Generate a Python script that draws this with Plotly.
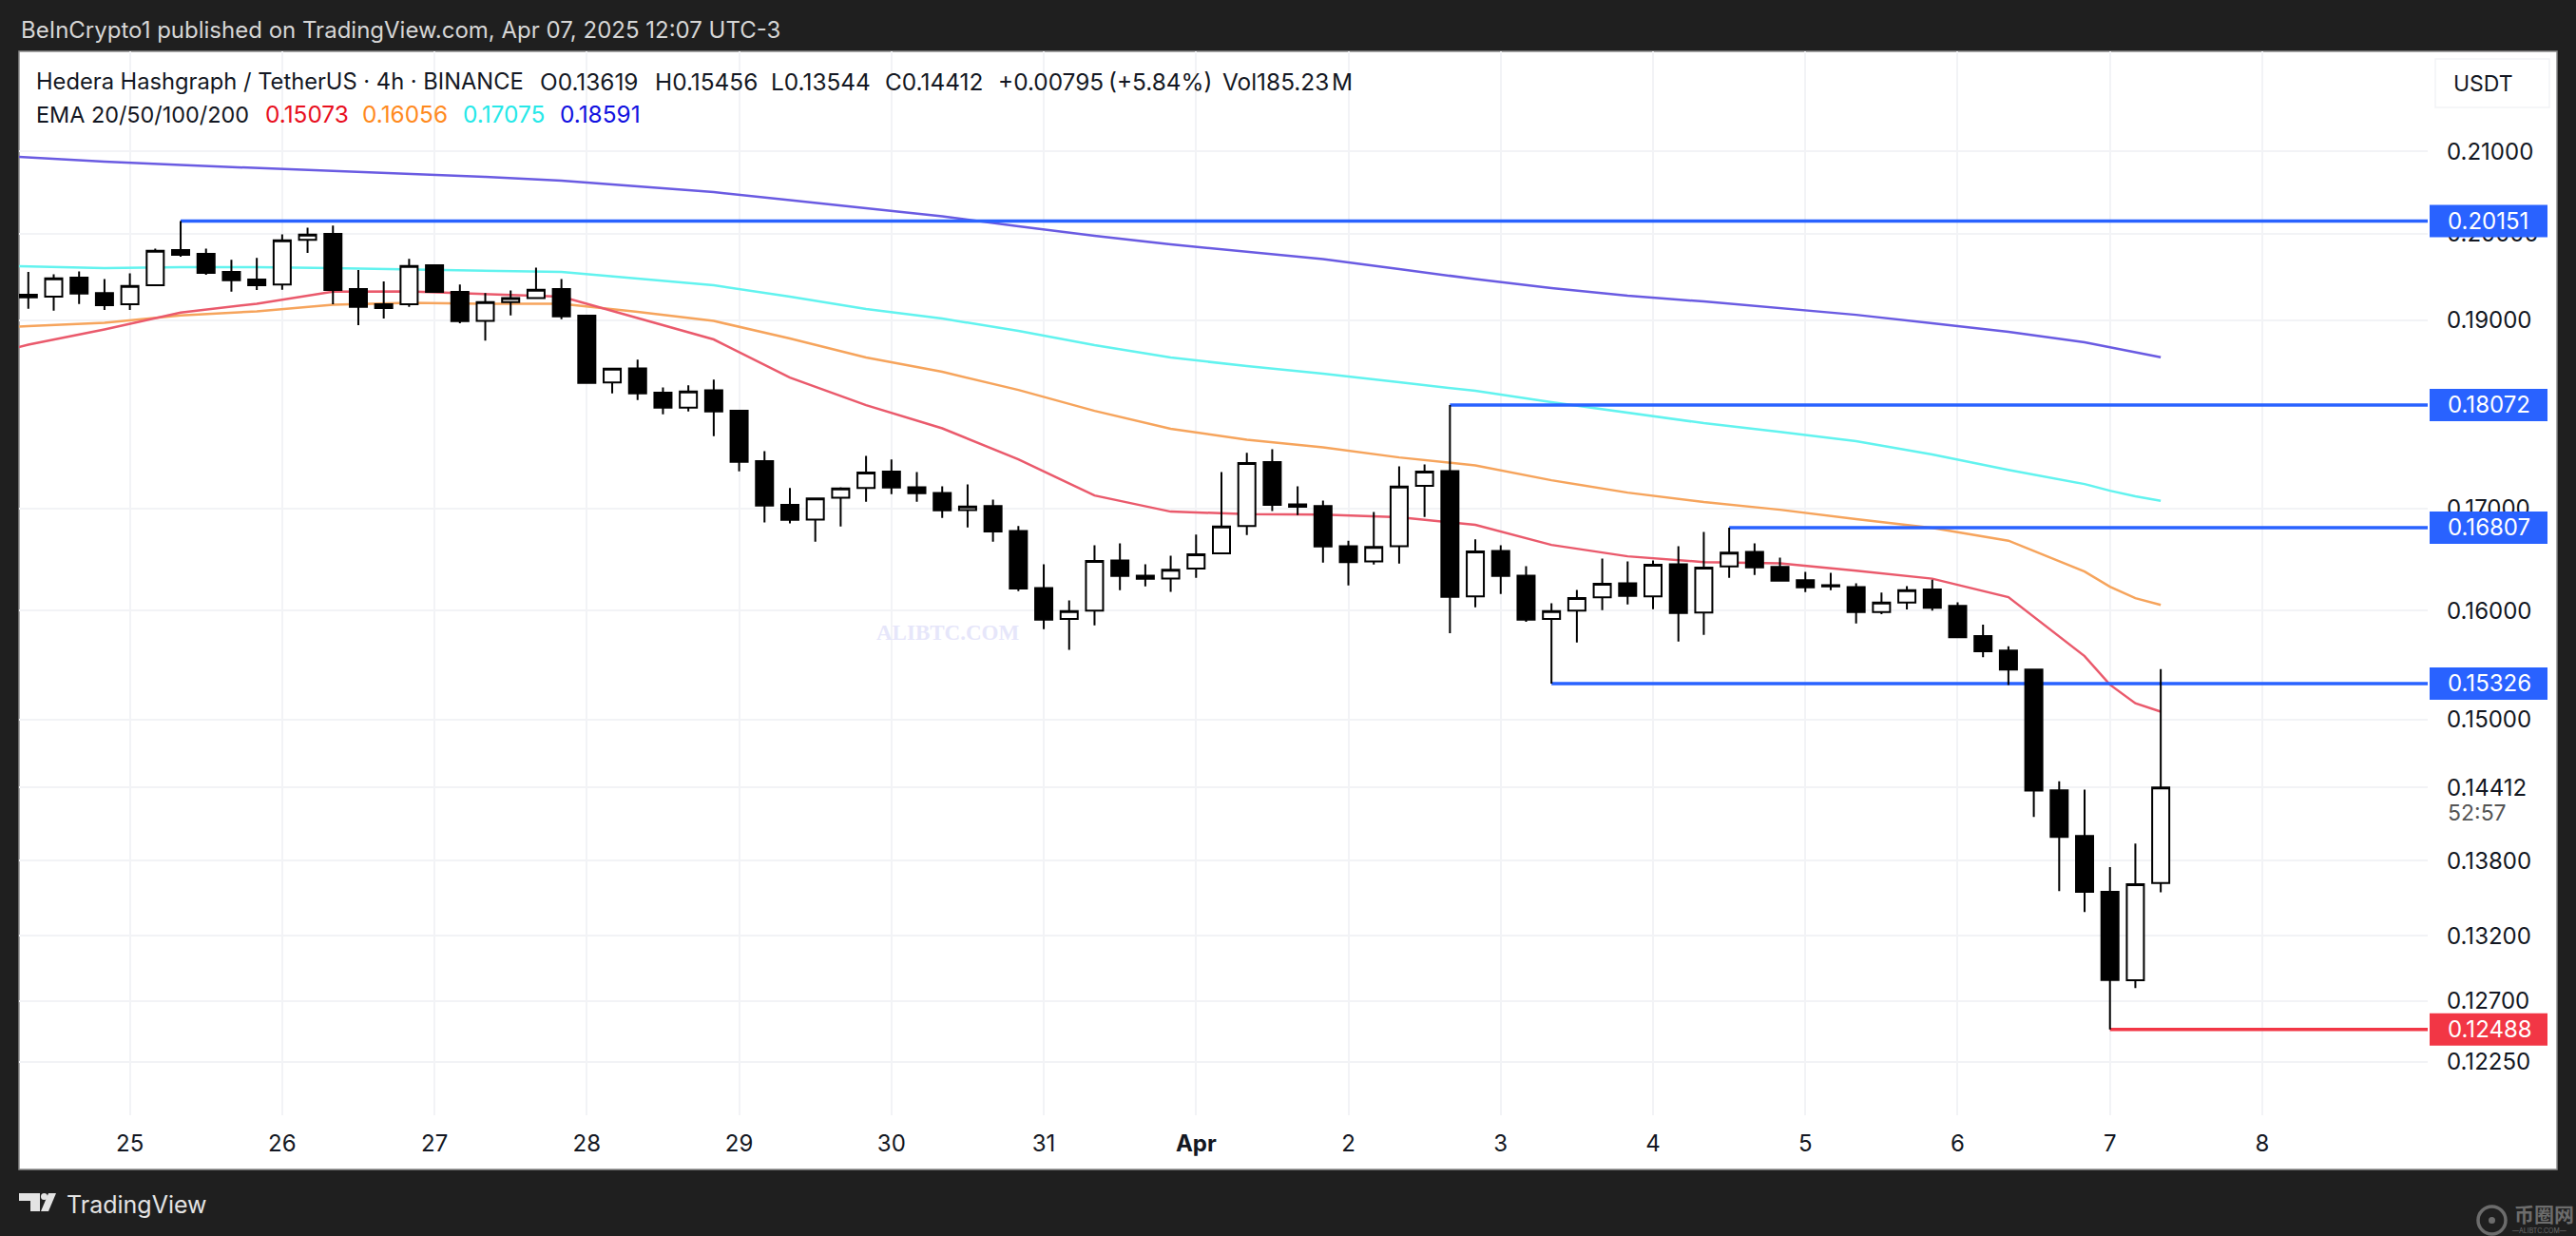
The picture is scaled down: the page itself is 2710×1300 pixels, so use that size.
import math
import pandas as pd
import plotly.graph_objects as go

# 4h candles, first one is Mar 24 08:00
opens = [0.19290, 0.19268, 0.19487, 0.19309, 0.19182, 0.19399, 0.19807, 0.19763, 0.19552, 0.19465,
         0.19407, 0.19927, 0.19998, 0.19355, 0.19182, 0.19182, 0.19630, 0.19323, 0.18996, 0.19207,
         0.19254, 0.19355, 0.19053, 0.18314, 0.18469, 0.18204, 0.18044, 0.18231, 0.18010, 0.17481,
         0.17034, 0.16888, 0.17108, 0.17207, 0.17373, 0.17214, 0.17156, 0.16983, 0.17022, 0.16774,
         0.16217, 0.15922, 0.16002, 0.16484, 0.16336, 0.16309, 0.16404, 0.16552, 0.16824, 0.17471,
         0.17041, 0.17022, 0.16624, 0.16475, 0.16624, 0.17227, 0.17380, 0.16138, 0.16577, 0.16336,
         0.15922, 0.16002, 0.16129, 0.16263, 0.16138, 0.16447, 0.15984, 0.16425, 0.16568, 0.16422,
         0.16291, 0.16245, 0.16226, 0.15988, 0.16077, 0.16203, 0.16047, 0.15762, 0.15627, 0.15453,
         0.14387, 0.14004, 0.13548, 0.12857, 0.13619]
highs = [0.19552, 0.19527, 0.19560, 0.19472, 0.19538, 0.19826, 0.20151, 0.19826, 0.19693, 0.19715,
         0.19994, 0.20073, 0.20096, 0.19574, 0.19443, 0.19704, 0.19633, 0.19407, 0.19309, 0.19341,
         0.19604, 0.19472, 0.19060, 0.18465, 0.18563, 0.18262, 0.18283, 0.18345, 0.18020, 0.17586,
         0.17205, 0.17101, 0.17214, 0.17537, 0.17498, 0.17370, 0.17224, 0.17243, 0.17089, 0.16822,
         0.16447, 0.16099, 0.16633, 0.16652, 0.16447, 0.16531, 0.16737, 0.17370, 0.17567, 0.17606,
         0.17224, 0.17079, 0.16676, 0.16964, 0.17429, 0.17448, 0.18072, 0.16692, 0.16633, 0.16429,
         0.16072, 0.16199, 0.16503, 0.16475, 0.16484, 0.16624, 0.16765, 0.16807, 0.16652, 0.16512,
         0.16373, 0.16364, 0.16263, 0.16174, 0.16235, 0.16297, 0.16081, 0.15868, 0.15667, 0.15460,
         0.14464, 0.14393, 0.13747, 0.13941, 0.15456]
lows = [0.19131, 0.19110, 0.19185, 0.19117, 0.19117, 0.19399, 0.19729, 0.19519, 0.19326, 0.19345,
        0.19348, 0.19774, 0.19182, 0.18946, 0.19021, 0.19153, 0.19312, 0.18967, 0.18773, 0.19056,
        0.19254, 0.19013, 0.18299, 0.18197, 0.18125, 0.17973, 0.18003, 0.17741, 0.17376, 0.16859,
        0.16850, 0.16667, 0.16818, 0.17066, 0.17143, 0.17066, 0.16903, 0.16808, 0.16667, 0.16186,
        0.15826, 0.15635, 0.15862, 0.16195, 0.16232, 0.16181, 0.16314, 0.16552, 0.16733, 0.16974,
        0.16932, 0.16462, 0.16241, 0.16443, 0.16453, 0.16913, 0.15790, 0.16032, 0.16159, 0.15897,
        0.15326, 0.15702, 0.16005, 0.16059, 0.16014, 0.15711, 0.15773, 0.16314, 0.16342, 0.16287,
        0.16177, 0.16195, 0.15880, 0.15967, 0.16012, 0.16002, 0.15752, 0.15566, 0.15313, 0.14162,
        0.13554, 0.13388, 0.12488, 0.12798, 0.13544]
closes = [0.19261, 0.19479, 0.19304, 0.19171, 0.19391, 0.19799, 0.19752, 0.19541, 0.19457, 0.19399,
          0.19922, 0.19990, 0.19345, 0.19153, 0.19139, 0.19622, 0.19323, 0.18992, 0.19207, 0.19254,
          0.19348, 0.19045, 0.18310, 0.18465, 0.18197, 0.18044, 0.18217, 0.18003, 0.17474, 0.17027,
          0.16884, 0.17101, 0.17201, 0.17363, 0.17210, 0.17152, 0.16979, 0.17018, 0.16768, 0.16211,
          0.15915, 0.15996, 0.16478, 0.16333, 0.16305, 0.16394, 0.16543, 0.16818, 0.17461, 0.17034,
          0.17015, 0.16620, 0.16468, 0.16617, 0.17220, 0.17373, 0.16132, 0.16571, 0.16333, 0.15915,
          0.15996, 0.16120, 0.16257, 0.16141, 0.16441, 0.15978, 0.16413, 0.16559, 0.16416, 0.16287,
          0.16223, 0.16232, 0.15987, 0.16077, 0.16196, 0.16029, 0.15752, 0.15621, 0.15453, 0.14384,
          0.13996, 0.13548, 0.12860, 0.13609, 0.14412]

# EMAs read every third candle (plus the last few), index into the candle list
ema_index = [-1, 0, 3, 6, 9, 12, 15, 18, 21, 24, 27, 30, 33, 36, 39, 42,
             45, 48, 51, 54, 57, 60, 63, 66, 69, 72, 75, 78, 81, 82, 83, 84]
ema20 = [0.18660, 0.18729, 0.18898, 0.19088, 0.19189, 0.19326, 0.19328, 0.19296, 0.19268, 0.19026, 0.18787,
         0.18368, 0.18071, 0.17824, 0.17500, 0.17130, 0.16967, 0.16943, 0.16938, 0.16910, 0.16834, 0.16636,
         0.16524, 0.16468, 0.16455, 0.16385, 0.16307, 0.16129, 0.15576, 0.15315, 0.15148, 0.15073]
ema50 = [0.18925, 0.18935, 0.18973, 0.19056, 0.19103, 0.19176, 0.19198, 0.19187, 0.19187, 0.19096, 0.18994,
         0.18797, 0.18587, 0.18431, 0.18234, 0.18010, 0.17819, 0.17704, 0.17624, 0.17520, 0.17437, 0.17285,
         0.17159, 0.17063, 0.16986, 0.16891, 0.16805, 0.16678, 0.16376, 0.16229, 0.16120, 0.16056]
ema100 = [0.19624, 0.19619, 0.19597, 0.19608, 0.19608, 0.19597, 0.19580, 0.19563, 0.19552, 0.19476, 0.19399,
          0.19268, 0.19128, 0.19021, 0.18882, 0.18723, 0.18587, 0.18493, 0.18410, 0.18317, 0.18224, 0.18102,
          0.17990, 0.17879, 0.17788, 0.17689, 0.17550, 0.17392, 0.17246, 0.17178, 0.17121, 0.17075]
ema200 = [0.20942, 0.20924, 0.20872, 0.20830, 0.20795, 0.20754, 0.20719, 0.20684, 0.20638, 0.20568, 0.20499,
          0.20401, 0.20304, 0.20207, 0.20088, 0.19975, 0.19874, 0.19791, 0.19702, 0.19586, 0.19470, 0.19366,
          0.19279, 0.19214, 0.19139, 0.19063, 0.18967, 0.18871, 0.18755, 0.18702, 0.18650, 0.18591]

# horizontal levels drawn on the chart and the candle each one starts from
level_values = [0.20151, 0.18072, 0.16807, 0.15326, 0.12488]
level_labels = ["0.20151", "0.18072", "0.16807", "0.15326", "0.12488"]
level_start = [6, 56, 67, 60, 82]
level_colors = ["#2962ff", "#2962ff", "#2962ff", "#2962ff", "#f23645"]

price_ticks = [0.21, 0.20, 0.19, 0.17, 0.16, 0.15, 0.14412, 0.138, 0.132, 0.127, 0.1225]
price_labels = ["0.21000", "0.20000", "0.19000", "0.17000", "0.16000", "0.15000",
                "0.14412", "0.13800", "0.13200", "0.12700", "0.12250"]

day_ticks = ["2025-03-25", "2025-03-26", "2025-03-27", "2025-03-28", "2025-03-29", "2025-03-30", "2025-03-31",
             "2025-04-01", "2025-04-02", "2025-04-03", "2025-04-04", "2025-04-05", "2025-04-06", "2025-04-07",
             "2025-04-08"]
day_labels = ["25", "26", "27", "28", "29", "30", "31", "<b>Apr</b>", "2", "3", "4", "5", "6", "7", "8"]

# legend text pieces
title_text = "Hedera Hashgraph / TetherUS · 4h · BINANCE"
ohlc_text = ["O0.13619", "H0.15456", "L0.13544", "C0.14412", "+0.00795", "(+5.84%)", "Vol185.23", "M"]
ohlc_x = [566, 687, 809, 929, 1048, 1164, 1284, 1399]
ema_title = "EMA 20/50/100/200"
ema_text = ["0.15073", "0.16056", "0.17075", "0.18591"]
ema_text_x = [277, 379, 485, 587]
ema_text_colors = ["#e8101e", "#ff8a1e", "#27e8e8", "#1010e0"]

W, H = 2710, 1300
FONT = "Inter"


def fx(px):
    return px / W


def fy(py):
    return 1 - py / H


times = pd.date_range("2025-03-24 08:00", periods=len(opens), freq="4h")
ema_times = [times[0] + pd.Timedelta(hours=4 * i) for i in ema_index]
x_range = ["2025-03-24 06:32", "2025-04-09 02:04"]
y_range = [math.log10(0.11870), math.log10(0.2228)]
y_domain = [fy(1173), fy(54)]


def price_y(val, offset=0):
    # paper height of a price on the log axis, offset in screen pixels
    t = (math.log10(val) - y_range[0]) / (y_range[1] - y_range[0])
    return y_domain[0] + t * (y_domain[1] - y_domain[0]) + offset / H


fig = go.Figure()

for vals, col in [(ema200, "#6a5be2"), (ema100, "#62f3ef"), (ema50, "#f6a45c"), (ema20, "#ea5a6c")]:
    fig.add_trace(go.Scatter(x=ema_times, y=vals, mode="lines", line=dict(color=col, width=2.5), hoverinfo="skip"))

for val, start, col in zip(level_values, level_start, level_colors):
    fig.add_trace(go.Scatter(x=[times[start], x_range[1]], y=[val, val], mode="lines",
                             line=dict(color=col, width=3.5), hoverinfo="skip"))

# second y axis only so the candles sit on top of the lines
fig.add_trace(go.Candlestick(
    x=times, open=opens, high=highs, low=lows, close=closes, yaxis="y2",
    increasing=dict(line=dict(color="#000000", width=2), fillcolor="#ffffff"),
    decreasing=dict(line=dict(color="#000000", width=2), fillcolor="#000000"),
    hoverinfo="skip",
))

shapes = [
    # white panel
    dict(type="rect", xref="paper", yref="paper", x0=fx(20), x1=fx(2690), y0=fy(54), y1=fy(1230), layer="below",
         fillcolor="#ffffff", line=dict(color="#8c8c8c", width=1.5)),
    # USDT button
    dict(type="rect", xref="paper", yref="paper", x0=fx(2562), x1=fx(2682), y0=fy(62), y1=fy(113),
         fillcolor="#ffffff", line=dict(color="#f2f3f6", width=1.5)),
    # TradingView logo
    dict(type="path", xref="paper", yref="paper", fillcolor="#e3e3e3", line=dict(width=0),
         path=f"M{fx(20)},{fy(1255)} L{fx(42)},{fy(1255)} L{fx(42)},{fy(1274)} L{fx(32)},{fy(1274)} "
              f"L{fx(32)},{fy(1263)} L{fx(20)},{fy(1263)} Z"),
    dict(type="circle", xref="paper", yref="paper", x0=fx(43), x1=fx(50), y0=fy(1255), y1=fy(1262),
         fillcolor="#e3e3e3", line=dict(width=0)),
    dict(type="path", xref="paper", yref="paper", fillcolor="#e3e3e3", line=dict(width=0),
         path=f"M{fx(51)},{fy(1255)} L{fx(59)},{fy(1255)} L{fx(51)},{fy(1274)} L{fx(43)},{fy(1274)} Z"),
    # 币圈网 mark
    dict(type="circle", xref="paper", yref="paper", x0=fx(2607), x1=fx(2636), y0=fy(1269), y1=fy(1298),
         fillcolor="rgba(0,0,0,0)", line=dict(color="#6c6c6c", width=3.5)),
    dict(type="circle", xref="paper", yref="paper", x0=fx(2618), x1=fx(2625), y0=fy(1280), y1=fy(1287),
         fillcolor="#6c6c6c", line=dict(width=0)),
]
for val, col in zip(level_values, level_colors):
    shapes.append(dict(type="rect", xref="paper", yref="paper", x0=fx(2556), x1=fx(2680),
                       y0=price_y(val, -17), y1=price_y(val, 17), fillcolor=col, line=dict(width=0)))

annotations = [
    dict(x=fx(20), y=fy(32), text="BeInCrypto1 published on TradingView.com, Apr 07, 2025 12:07 UTC-3",
         font=dict(size=24, color="#d6d6d6", family=FONT)),
    dict(x=fx(36), y=fy(86), text=title_text, font=dict(size=23.7, color="#131722", family=FONT)),
    dict(x=fx(36), y=fy(120), text=ema_title, font=dict(size=23.4, color="#131722", family=FONT)),
    dict(x=fx(2612), y=fy(88), xanchor="center", text="USDT", font=dict(size=23, color="#131722", family=FONT)),
    dict(x=fx(2573), y=fy(855), text="52:57", font=dict(size=23, color="#555555", family=FONT)),
    dict(x=fx(997), y=fy(665), xanchor="center", text="<b>ALIBTC.COM</b>",
         font=dict(size=23, color="#e6e6fa", family="Liberation Serif")),
    dict(x=fx(68), y=fy(1267), text="TradingView", font=dict(size=25, color="#e3e3e3", family=FONT)),
    dict(x=fx(2643), y=fy(1276), text="<b>币圈网</b>", font=dict(size=21, color="#6c6c6c", family="Noto Sans CJK SC")),
    dict(x=fx(2641), y=fy(1294), text="—ALIBTC.COM—", font=dict(size=7, color="#6c6c6c", family=FONT)),
]
for txt, xpos in zip(ohlc_text, ohlc_x):
    annotations.append(dict(x=fx(xpos), y=fy(86), text=txt, font=dict(size=24.4, color="#131722", family=FONT)))
for txt, xpos, col in zip(ema_text, ema_text_x, ema_text_colors):
    annotations.append(dict(x=fx(xpos), y=fy(120), text=txt, font=dict(size=24.4, color=col, family=FONT)))
for val, lab in zip(level_values, level_labels):
    annotations.append(dict(x=fx(2573), y=price_y(val), text=lab, font=dict(size=24, color="#ffffff", family=FONT)))
for a in annotations:
    a.update(xref="paper", yref="paper", showarrow=False)
    a.setdefault("xanchor", "left")
    a.setdefault("yanchor", "middle")

fig.update_layout(
    width=W, height=H,
    margin=dict(l=0, r=0, t=0, b=0),
    paper_bgcolor="#1f1f1f",
    plot_bgcolor="#ffffff",
    showlegend=False,
    dragmode=False,
    boxgap=0.326,
    boxgroupgap=0,
    font=dict(family=FONT, color="#131722"),
    shapes=shapes,
    annotations=annotations,
    xaxis=dict(
        domain=[fx(20), fx(2554)], range=x_range, type="date", rangeslider=dict(visible=False),
        tickmode="array", tickvals=day_ticks, ticktext=day_labels, tickangle=0,
        tickfont=dict(size=24, color="#131722", family=FONT), ticklabelstandoff=13,
        showgrid=True, gridcolor="#f2f3f6", gridwidth=2, zeroline=False, showline=False, ticks="",
    ),
    yaxis=dict(
        domain=y_domain, range=y_range, type="log", side="right",
        tickmode="array", tickvals=price_ticks, ticktext=price_labels,
        tickfont=dict(size=24, color="#131722", family=FONT), ticklabelstandoff=19,
        showgrid=True, gridcolor="#f2f3f6", gridwidth=2, zeroline=False, showline=False, ticks="",
    ),
    yaxis2=dict(
        overlaying="y", side="right", range=y_range, type="log", showgrid=False,
        showticklabels=False, zeroline=False, showline=False, ticks="",
    ),
)

fig.write_html("out.html", config=dict(displayModeBar=False),
               post_script="document.body.style.margin='0';document.body.style.background='#1f1f1f';"
                           "document.body.style.overflow='hidden';")
